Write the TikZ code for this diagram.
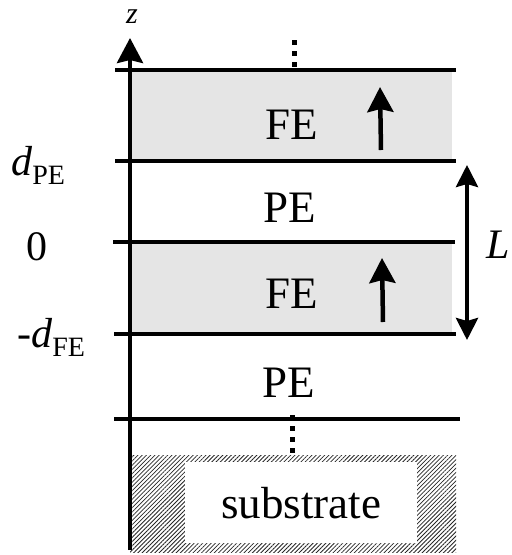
\documentclass[tikz,border=0pt]{standalone}
\usepackage{fontspec}
\setmainfont{Liberation Serif}
\usetikzlibrary{arrows.meta,patterns.meta}
\newcommand{\lab}[1]{\raisebox{-0.22em}{\fontsize{28}{28}\selectfont #1}}
\begin{document}
\begin{tikzpicture}[x=1pt,y=-1pt,
	layer/.style={line width=4pt},
	big/.style={font=\fontsize{45}{54}\selectfont,inner sep=0pt,anchor=base},
	side/.style={font=\fontsize{42}{50}\selectfont,inner sep=0pt},
	pol/.style={line width=4.5pt,-{Stealth[length=25pt,width=26pt,inset=3pt]}},
	vdots/.style={line width=5pt,dash pattern=on 5pt off 6pt}]
	\useasboundingbox (0,0) rectangle (512,555);
	% ferroelectric layers
	\fill[black!10] (132,72) rectangle (452,159);
	\fill[black!10] (132,244) rectangle (452,332);
	% substrate
	\fill[pattern={Lines[angle=45,distance=3pt,line width=0.8pt]},pattern color=black!85] (130,455) rectangle (456,552);
	\fill[white] (185,462) rectangle (417,543);
	% interfaces
	\draw[layer] (115,70) -- (456,70);
	\draw[layer] (115,161) -- (456,161);
	\draw[layer] (113,242) -- (455,242);
	\draw[layer] (114,334) -- (456,334);
	\draw[layer] (114,419) -- (460,419);
	\draw[vdots] (294,40) -- (294,68);
	\draw[vdots] (292,415) -- (292,455);
	% axis
	\coordinate (zbot) at (130,550);
	\coordinate (ztop) at (130,38);
	\draw[line width=4pt,-{Stealth[length=25pt,width=26pt,inset=3pt]}] (zbot) -- (ztop);
	\node[font=\fontsize{30}{36}\selectfont\itshape,inner sep=0pt] (zlab) at (132,17) {z};
	% layer names
	\node[big] (fe1) at (292,139) {FE};
	\node[big] (pe1) at (290,222) {PE};
	\node[big] (fe2) at (292,308) {FE};
	\node[big] (pe2) at (289,397) {PE};
	\node[big] (sub) at (301,518) {substrate};
	% polarization
	\coordinate (p1a) at (381,150);
	\coordinate (p1b) at (380,87);
	\coordinate (p2a) at (383,322);
	\coordinate (p2b) at (382,258);
	\draw[pol] (p1a) -- (p1b);
	\draw[pol] (p2a) -- (p2b);
	% period
	\coordinate (Ltop) at (467,165);
	\coordinate (Lbot) at (467,340);
	\draw[line width=4pt,{Stealth[length=22pt,width=22pt,inset=3pt]}-{Stealth[length=22pt,width=22pt,inset=3pt]}] (Ltop) -- (Lbot);
	\node[font=\fontsize{42}{50}\selectfont\itshape,inner sep=0pt,anchor=base east] (L) at (510,258) {L};
	% positions
	\node[side,anchor=base west] (dpe) at (11,175) {\textit{d}\lab{PE}};
	\node[side,anchor=base] (zero) at (37,260) {0};
	\node[side,anchor=base west] (dfe) at (17,347) {-\textit{d}\lab{FE}};
\end{tikzpicture}
\end{document}
